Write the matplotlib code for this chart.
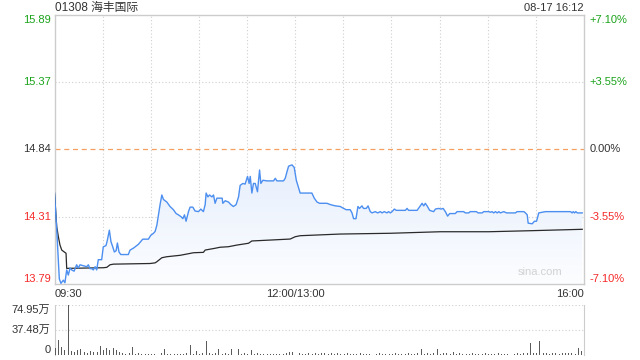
import numpy as np
import matplotlib
matplotlib.use('Agg')
import matplotlib.pyplot as plt
from matplotlib.path import Path
from matplotlib.patches import PathPatch
from matplotlib.transforms import blended_transform_factory

plt.rcParams['font.family'] = ['Liberation Sans', 'Noto Sans CJK SC', 'DejaVu Sans']

# ── data (minutes since 09:30, lunch break removed) ──────────────────────
TITLE = '01308 海丰国际'
STAMP = '08-17 16:12'
PREV_CLOSE = 14.84
Y_TICKS = [15.89, 15.37, 14.84, 14.31, 13.79]
PCT_LABELS = ['+7.10%', '+3.55%', '0.00%', '-3.55%', '-7.10%']
X_LABELS = ['09:30', '12:00/13:00', '16:00']
X_LABEL_POS = [0, 150, 330]
VOL_TICKS = [74.95, 37.48, 0]
VOL_LABELS = ['74.95万', '37.48万', '0']

price_min = [0, 1.4, 3, 4, 5.5, 6.5, 7.6, 8.6, 9.7, 10.7, 12.2, 13.8, 14.8, 15.9,
             20.1, 21.1, 22.1, 23.2, 24.2, 25.3, 26.3, 27.3, 29.4, 30.4, 32.1, 32.9,
             34.2, 35.2, 36.3, 37.3, 38.4, 39.2, 40.2, 41.3, 46, 47.1, 49.2, 50.2,
             52.3, 55, 58.5, 60, 61.6, 62.7, 63.8, 64.8, 65.8, 66.9, 67.9, 70, 72,
             74.1, 75.8, 77.2, 78.9, 80, 81, 82, 83.5, 84.5, 86.2, 87.6, 89.7, 91.2,
             92.8, 93.9, 94.5, 95.6, 96.6, 98.1, 99.1, 100.1, 101.2, 104.5, 104.9,
             106.4, 108.4, 109.9, 111.5, 113.2, 114.7, 115.7, 117.4, 118.8, 120.3,
             121.3, 122, 123, 124, 125.1, 126.5, 127.8, 128.6, 129.9, 132.4, 136.5,
             137.6, 138.6, 142.7, 143.8, 144.9, 145.9, 148, 149.4, 150.7, 152.1,
             153.1, 160.4, 161.9, 163.6, 165.2, 169.8, 171.9, 175, 178.1, 180.2,
             181.8, 184.3, 185.4, 186.4, 187.9, 189.1, 190.1, 191.6, 192.6, 194.3,
             195.4, 196.8, 197.9, 199.9, 201.4, 203.1, 204.1, 205.5, 207.2, 208.2,
             209.3, 210.4, 211.8, 213, 218.7, 219.7, 220.7, 226, 228, 229.1, 230.1,
             231.1, 232.2, 233.8, 236.3, 237.4, 239.4, 240.9, 242.2, 243.6, 245,
             246.3, 249.8, 250.9, 255, 256.1, 258.1, 259.2, 262.9, 264, 266.5, 267.5,
             270.6, 271.7, 272.7, 273.7, 274.8, 275.9, 276.9, 277.9, 280, 281.7,
             287.3, 288.3, 292.5, 293.5, 294.6, 295.2, 297.7, 299.1, 300.4, 301.2,
             301.8, 306, 321.6, 322.6, 323.3, 324.1, 324.9, 325.8, 328.9]
price = [14.50, 14.21, 13.83, 13.795, 13.82, 13.80, 13.90, 13.86, 13.915, 13.90,
         13.89, 13.94, 13.915, 13.94, 13.925, 13.94, 13.91, 13.91, 13.90, 13.925,
         13.90, 13.98, 13.98, 14.08, 14.09, 14.13, 14.21, 14.12, 14.08, 14.04,
         14.05, 14.11, 14.04, 14.02, 14.02, 14.055, 14.07, 14.08, 14.10, 14.14,
         14.14, 14.17, 14.185, 14.20, 14.25, 14.33, 14.41, 14.485, 14.45, 14.43,
         14.395, 14.37, 14.34, 14.33, 14.315, 14.30, 14.33, 14.28, 14.355, 14.39,
         14.39, 14.36, 14.355, 14.375, 14.355, 14.41, 14.50, 14.47, 14.485, 14.47,
         14.485, 14.42, 14.46, 14.46, 14.42, 14.44, 14.43, 14.41, 14.395, 14.41,
         14.47, 14.56, 14.575, 14.57, 14.63, 14.575, 14.63, 14.50, 14.575, 14.575,
         14.51, 14.68, 14.575, 14.60, 14.595, 14.595, 14.615, 14.595, 14.595,
         14.615, 14.667, 14.71, 14.72, 14.70, 14.60, 14.54, 14.50, 14.50, 14.46,
         14.43, 14.42, 14.42, 14.41, 14.40, 14.395, 14.38, 14.37, 14.37, 14.345,
         14.30, 14.30, 14.395, 14.38, 14.40, 14.38, 14.38, 14.40, 14.355, 14.345,
         14.355, 14.345, 14.355, 14.345, 14.355, 14.345, 14.355, 14.345, 14.355,
         14.375, 14.365, 14.365, 14.38, 14.365, 14.365, 14.40, 14.42, 14.40, 14.42,
         14.40, 14.365, 14.355, 14.375, 14.38, 14.375, 14.38, 14.355, 14.32, 14.34,
         14.34, 14.355, 14.355, 14.345, 14.345, 14.355, 14.355, 14.345, 14.345,
         14.355, 14.355, 14.35, 14.355, 14.345, 14.355, 14.345, 14.355, 14.345,
         14.355, 14.345, 14.345, 14.355, 14.355, 14.345, 14.33, 14.265, 14.26,
         14.28, 14.28, 14.315, 14.345, 14.355, 14.355, 14.345, 14.355, 14.345,
         14.355, 14.345, 14.345]

avg_min = [0, 1.4, 2.4, 3.4, 4.5, 6.1, 7.2, 7.6, 30.4, 32.6, 34.6, 36.7, 59.6, 62.7,
           63.8, 66.9, 70, 78.3, 82.5, 86.6, 92.8, 93.9, 100.1, 103.2, 108.4, 113.7,
           120.9, 123, 134.4, 146.9, 150, 153.1, 178.1, 209.3, 240.5, 270.6, 296.6,
           328.9]
avg_price = [14.50, 14.237, 14.16, 14.095, 14.055, 14.04, 14.03, 13.912, 13.917,
             13.92, 13.94, 13.945, 13.95, 13.955, 13.964, 13.995, 14.003, 14.014,
             14.024, 14.034, 14.037, 14.055, 14.069, 14.077, 14.081, 14.094, 14.108,
             14.126, 14.133, 14.141, 14.159, 14.167, 14.18, 14.186, 14.198, 14.198,
             14.206, 14.217]

# volume in 万 shares, one bar every 2 minutes
volume = [10, 22.5, 12.5, 7.5, 74.95, 6, 5, 7.5, 9, 5, 2.5, 6, 4, 5, 14,
          7.5, 10, 7.5, 11, 7.5, 4, 2.5, 2, 2.5, 12.5, 2, 2.5, 2, 1.5, 2,
          2, 1.5, 20, 2.5, 9, 2, 1.5, 2, 1.5, 2, 1.5, 2.5, 15, 2, 6,
          2, 2.5, 21.5, 3, 2, 2.5, 9, 2, 2.5, 2, 9, 5, 9, 2, 2.5,
          2, 7.5, 2, 2.5, 1.5, 2, 1.5, 2, 1.5, 2, 1.5, 2, 2.5, 4, 5,
          11, 3, 2, 1.5, 2.5, 2, 3, 2, 2.5, 3, 2, 2.5, 2, 3, 2,
          2, 2.5, 2, 1.5, 2, 2.5, 2, 1.5, 2, 9, 2, 2.5, 2, 1.5, 2,
          2, 2.5, 2, 1.5, 2, 3, 2, 2, 2.5, 8.5, 2, 3, 2, 2.5, 8.5,
          2, 2.5, 3, 2, 4, 2, 2.5, 2, 1.5, 2, 2.5, 2, 1.5, 2, 2.5,
          2, 1.5, 2, 2.5, 2, 1.5, 2, 2.5, 2, 3, 2, 2.5, 3, 17.5, 2.5,
          3, 21, 2.5, 3, 2, 2.5, 3, 2, 2.5, 3, 2.5, 3, 2, 10, 6]
vol_min = np.arange(len(volume)) * 2

GREEN = '#1aa31a'
RED = '#f52a2a'
DARK = '#333333'
GRID = '#cfcfcf'
SPINE = '#cccccc'

fig = plt.figure(figsize=(6.4, 3.6), dpi=100)
W, H = 640, 360


def box(l, t, r, b):
    return [l / W, 1 - b / H, (r - l) / W, (b - t) / H]


ax = fig.add_axes(box(54.5, 15, 584, 284))
axv = fig.add_axes(box(54.5, 305, 584, 355))

# ── main price panel ─────────────────────────────────────────────────────
ax.set_xlim(0, 330)
ax.set_ylim(Y_TICKS[-1], Y_TICKS[0])
ax.set_xticks([])
ax.set_yticks([])
for s in ax.spines.values():
    s.set_color(SPINE)
    s.set_linewidth(1.0)

for m in range(30, 330, 30):
    ax.axvline(m, color=GRID, lw=0.8, ls=(0, (1, 2)), zorder=1)
for yv in [Y_TICKS[1], Y_TICKS[3]]:
    ax.axhline(yv, color=GRID, lw=0.8, ls=(0, (1, 2)), zorder=1)
ax.axhline(PREV_CLOSE, color='#f5a060', lw=0.9, ls=(0, (4, 3)), zorder=2)

# gradient fill under price line
verts = [(price_min[0], Y_TICKS[-1])] + list(zip(price_min, price)) + \
        [(price_min[-1], Y_TICKS[-1])]
poly = PathPatch(Path(verts), facecolor='none', edgecolor='none')
ax.add_patch(poly)
grad = np.linspace(0, 1, 256).reshape(-1, 1)
c_top = np.array([0.90, 0.935, 0.99])
c_bot = np.array([0.99, 0.993, 1.0])
img = c_top[None, None, :] * (1 - grad[:, :, None]) + c_bot[None, None, :] * grad[:, :, None]
im = ax.imshow(img, extent=[0, 330, Y_TICKS[-1], 14.75], aspect='auto',
               origin='upper', zorder=1.5)
im.set_clip_path(poly)

ax.plot(price_min, price, color='#4c8ff0', lw=1.0, zorder=4)
ax.plot(avg_min, avg_price, color='#2a2a2a', lw=0.9, zorder=3)

# axis labels
tl = blended_transform_factory(ax.transAxes, ax.transData)
for i, (v, pl) in enumerate(zip(Y_TICKS, PCT_LABELS)):
    col = GREEN if v > PREV_CLOSE else (RED if v < PREV_CLOSE else DARK)
    va = 'top' if i == 0 else ('bottom' if i == len(Y_TICKS) - 1 else 'center')
    ax.text(-0.007, v, f'{v:.2f}', transform=tl, ha='right', va=va,
            fontsize=8, color=col)
    ax.text(1.011, v, pl, transform=tl, ha='left', va=va,
            fontsize=8, color=col)

for m, lab in zip(X_LABEL_POS, X_LABELS):
    ha = 'left' if m == 0 else ('right' if m == 330 else 'center')
    ax.text(m, -0.018, lab, transform=blended_transform_factory(ax.transData, ax.transAxes),
            ha=ha, va='top', fontsize=8, color=DARK)

ax.text(0.96, 0.025, 'sina.com', transform=ax.transAxes, ha='right', va='bottom',
        fontsize=8, color='#d2d2d2')

fig.text(55 / W, 1 - 8 / H, TITLE, ha='left', va='center', fontsize=8.5, color=DARK)
fig.text(584 / W, 1 - 8 / H, STAMP, ha='right', va='center', fontsize=8, color=DARK)

# ── volume panel ─────────────────────────────────────────────────────────
axv.set_xlim(0, 330)
axv.set_ylim(0, VOL_TICKS[0])
axv.set_xticks([])
axv.set_yticks([])
for k, s in axv.spines.items():
    s.set_color(SPINE)
    s.set_visible(k in ('left', 'right'))
for yv in VOL_TICKS[:2]:
    axv.axhline(yv, color=GRID, lw=0.8, ls=(0, (1, 2)), zorder=1)
axv.bar(vol_min + 0.5, volume, width=0.6, color='#5a5a5a', zorder=3)

tv = blended_transform_factory(axv.transAxes, axv.transData)
for v, lab, va in zip(VOL_TICKS, VOL_LABELS, ['top', 'center', 'bottom']):
    axv.text(-0.008, v, lab, transform=tv, ha='right', va=va, fontsize=8, color=DARK)

fig.savefig('out.png', dpi=100)
